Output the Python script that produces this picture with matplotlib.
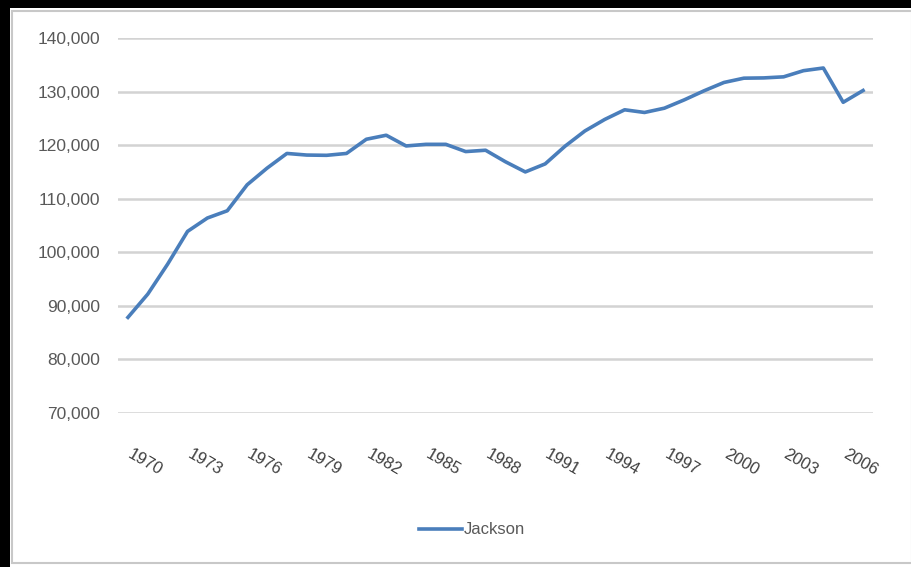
import numpy as np
import matplotlib.pyplot as plt
from matplotlib.patches import Rectangle
from matplotlib.ticker import FuncFormatter
from matplotlib.transforms import ScaledTranslation

# annual population, Jackson
years = list(range(1970, 2008))
jackson = [87850, 92200, 97800, 103900, 106400, 107750, 112600, 115700, 118450, 118150,
           118100, 118450, 121100, 121850, 119850, 120150, 120150, 118800, 119050, 116900,
           115000, 116500, 119800, 122650, 124800, 126600, 126100, 126900, 128450, 130150,
           131700, 132500, 132550, 132750, 133900, 134400, 128000, 130200]
label_years = list(range(1970, 2007, 3))

W, H = 912, 567
fig = plt.figure(figsize=(W / 100, H / 100), dpi=100)
fig.patch.set_facecolor('white')

# dark frame on left and top, thin grey chart border inside
fig.patches.append(Rectangle((0, 0), 10 / W, 1, transform=fig.transFigure,
                             facecolor='black', edgecolor='none', zorder=0))
fig.patches.append(Rectangle((0, 1 - 8 / H), 1, 8 / H, transform=fig.transFigure,
                             facecolor='black', edgecolor='none', zorder=0))
fig.patches.append(Rectangle((12 / W, 4 / H), (W - 12) / W, (H - 15) / H,
                             transform=fig.transFigure, facecolor='none',
                             edgecolor='#c8c8c8', linewidth=1.5, zorder=1))

ax = fig.add_axes([118 / W, 1 - 413 / H, (873 - 118) / W, (413 - 38) / H])
x = np.arange(len(years))
ax.plot(x, jackson, color='#4a7ebb', linewidth=2.6, label='Jackson', zorder=3,
        solid_joinstyle='round')

ax.set_xlim(-0.5, len(years) - 0.5)
ax.set_ylim(70000, 140000)
ax.set_yticks(np.arange(70000, 140001, 10000))
ax.yaxis.set_major_formatter(FuncFormatter(lambda v, p: f'{int(v):,}'))
ax.grid(axis='y', color='#d3d3d3', linewidth=1.8)
ax.set_axisbelow(True)
for s in ax.spines.values():
    s.set_visible(False)

ax.set_xticks([years.index(y) for y in label_years])
ax.set_xticklabels([str(y) for y in label_years], rotation=-30,
                   ha='left', va='top', rotation_mode='anchor')
ax.tick_params(axis='x', length=0, pad=24, labelsize=12, labelcolor='#404040')
ax.tick_params(axis='y', length=0, pad=13, labelsize=12.5, labelcolor='#595959')
for t in ax.get_xticklabels() + ax.get_yticklabels():
    t.set_fontfamily('Liberation Sans')
# nudge the slanted year labels a little to the right
shift = ScaledTranslation(5 / 100, 0, fig.dpi_scale_trans)
for t in ax.get_xticklabels():
    t.set_transform(t.get_transform() + shift)

leg = fig.legend(loc='center', bbox_to_anchor=(472 / W, 1 - 530 / H), frameon=False,
                 handlelength=2.6, handletextpad=0.1,
                 prop={'family': 'Liberation Sans', 'size': 12})
for t in leg.get_texts():
    t.set_color('#595959')

fig.savefig('out.png', dpi=100)
